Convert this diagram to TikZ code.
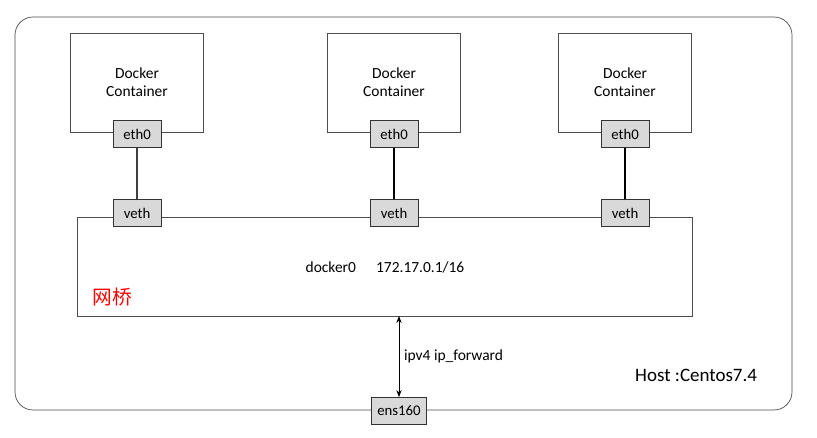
\documentclass[tikz,border=0pt]{standalone}
\usepackage{fontspec}
\setmainfont{Carlito}
\newfontfamily\cjk{Noto Sans CJK SC}
\usetikzlibrary{positioning,arrows.meta}
\tikzset{
  lbl/.style={font=\fontsize{11}{13}\selectfont},
  box/.style={draw=black!70, fill=white, line width=0.5pt},
  port/.style={draw=black!80, fill=black!15, minimum width=1.2cm, minimum height=0.68cm, inner sep=0pt, font=\fontsize{10.5}{12}\selectfont},
  link/.style={line width=1.4pt}
}
\begin{document}
\begin{tikzpicture}[x=0.025cm, y=-0.025cm]
      \useasboundingbox (0,0) rectangle (817,438);
      % host
      \draw[box, rounded corners=0.45cm] (15,17) rectangle (792,410);
      \node[anchor=base east, font=\fontsize{13.5}{15}\selectfont] (host) at (762,382) {Host :Centos7.4};

      % containers
      \foreach \n/\x in {a/137, b/394, c/625} {
        \draw[box] (\x-67,33) rectangle (\x+66,132);
        \node[align=center, lbl] (dc\n) at (\x,82) {Docker\\Container};
      }

      % bridge
      \draw[box] (77,217) rectangle (692,316);
      \coordinate (brb) at (399,316);
      \node[lbl] (br) at (385,267) {docker0\hspace{1.3em}172.17.0.1/16};
      \node[anchor=west, text=red, font=\cjk\fontsize{14}{16}\selectfont] (wq) at (88,297) {网桥};

      % ports
      \foreach \n/\x in {a/137, b/394, c/625} {
        \node[port] (eth\n) at (\x,134) {eth0};
        \node[port] (veth\n) at (\x,213) {veth};
      }
      \draw[link, black!75] (etha) -- (vetha);
      \draw[link] (ethb) -- (vethb);
      \draw[link] (ethc) -- (vethc);

      % uplink
      \node[port, minimum width=1.38cm] (ens) at (399,411) {ens160};
      \draw[{Stealth[length=5pt]}-{Stealth[length=5pt]}, line width=0.6pt] (brb) -- (ens)
        node[midway, right, lbl] (fw) {ipv4 ip\_forward};
\end{tikzpicture}
\end{document}
